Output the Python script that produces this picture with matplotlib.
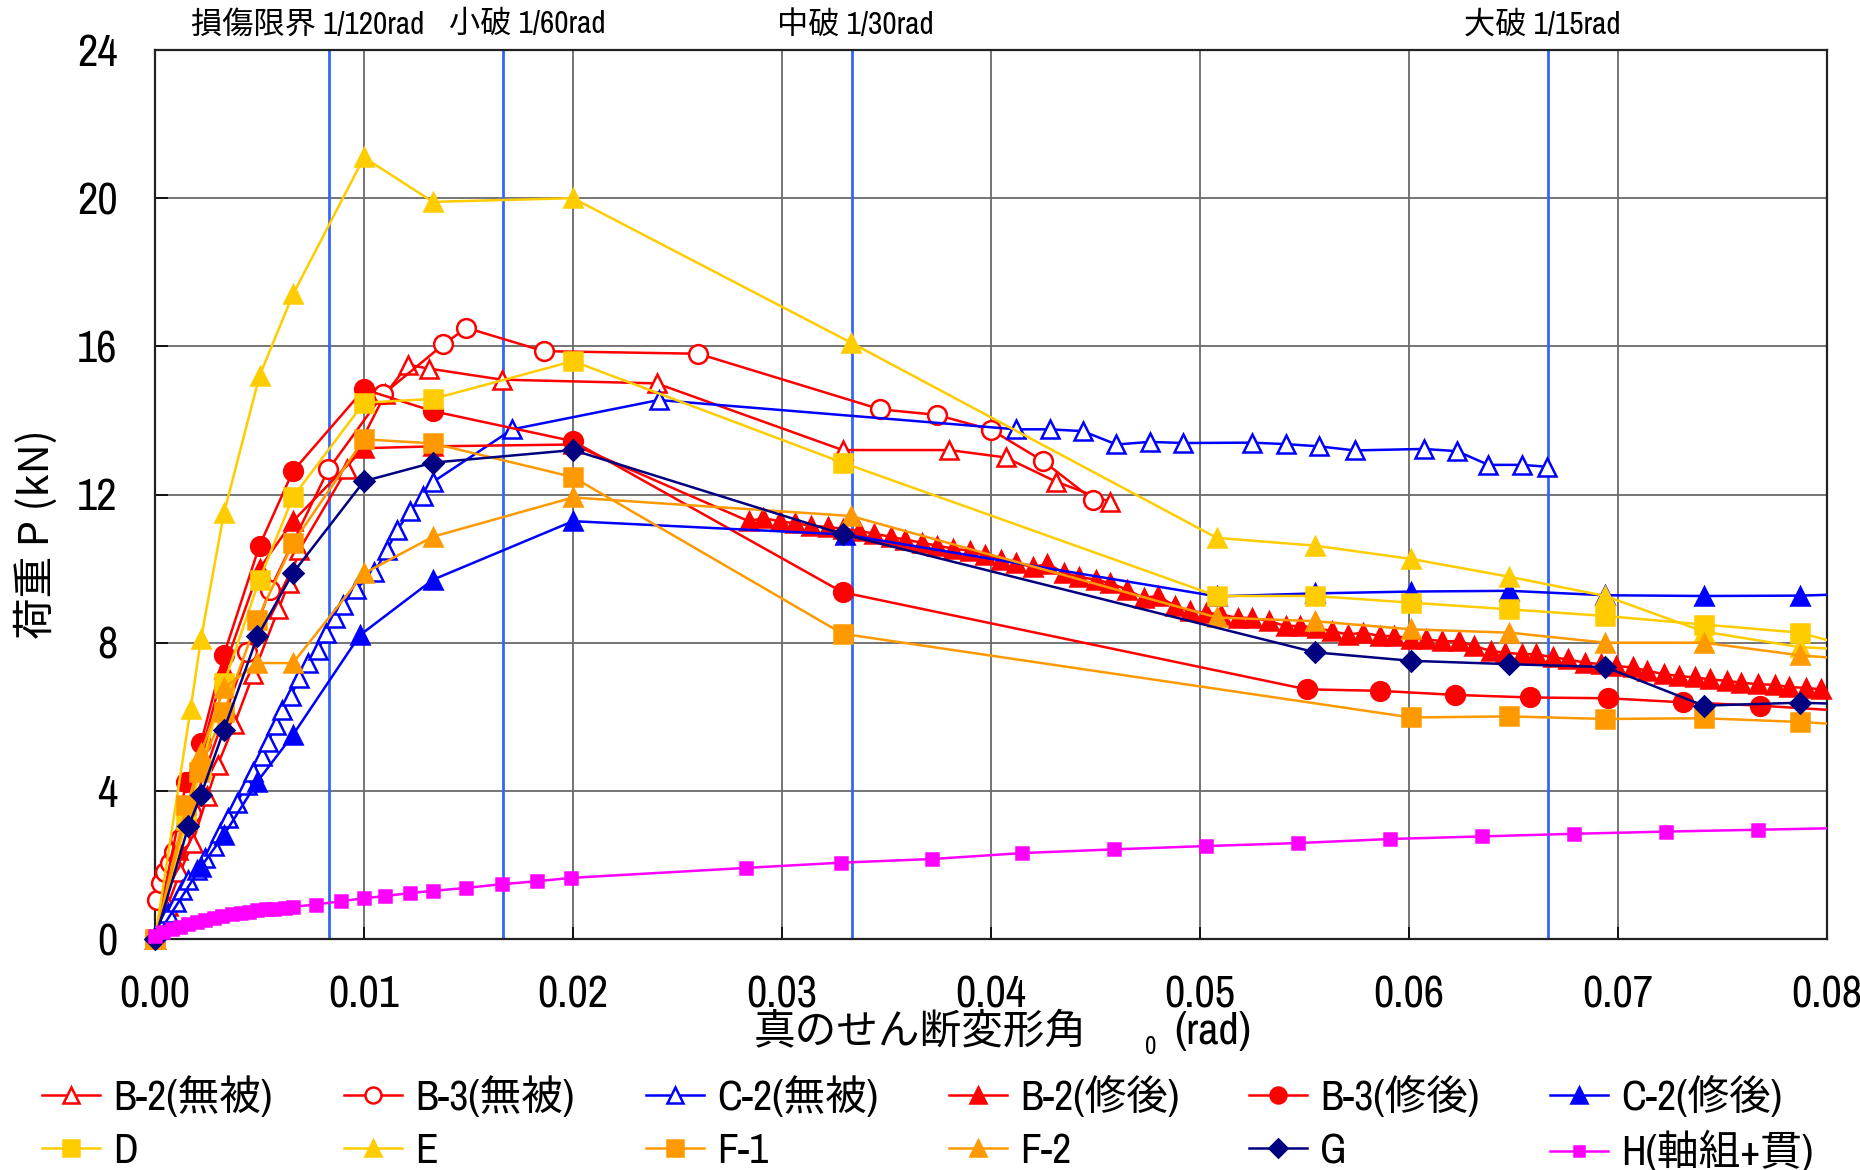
import matplotlib
matplotlib.use("Agg")
import matplotlib.pyplot as plt
import matplotlib.font_manager as fm
from matplotlib.lines import Line2D
from matplotlib.font_manager import FontProperties
import matplotlib.transforms as mtransforms

# ---------------------------------------------------------------- fonts
CJK = "Noto Sans CJK JP"


def find_narrow_face():
    """Return (family, stretch) of an installed narrow/condensed Latin face, or None."""
    entries = fm.fontManager.ttflist
    for f in entries:
        if "Narrow" in f.name and f.style == "normal" and f.weight in (400, "normal", "regular"):
            return f.name, "normal"
    latin = ["Liberation Sans", "Noto Sans", "Open Sans", "Roboto", "Lato", "Inter", "DejaVu Sans"]
    for fam in latin:
        for f in entries:
            if (f.name == fam and f.stretch in ("condensed", "semi-condensed")
                    and f.style == "normal" and f.weight in (400, "normal", "regular")):
                return f.name, f.stretch
    return None


narrow = find_narrow_face()
if narrow:
    LATIN, STRETCH = narrow
    TICK_SIZE = 32
else:
    LATIN, STRETCH = "Liberation Sans", "normal"
    TICK_SIZE = 29


def fp(size, families=None):
    return FontProperties(family=families or [LATIN, CJK], size=size, stretch=STRETCH)


# ---------------------------------------------------------------- data
# B-2 (無被)
b2_mu_x = [0, 0.0006, 0.0012, 0.0018, 0.0025, 0.0030, 0.0038, 0.0047, 0.0059, 0.0064,
           0.0069, 0.0092, 0.0110, 0.0121, 0.0131, 0.0166, 0.0240, 0.0329, 0.0380,
           0.0407, 0.0431, 0.0457]
b2_mu_y = [0, 0.9, 1.8, 2.6, 3.85, 4.7, 5.8, 7.15, 8.9, 9.6,
           10.5, 12.7, 14.7, 15.5, 15.4, 15.1, 15.0, 13.2, 13.2,
           13.0, 12.35, 11.8]

# B-3 (無被)
b3_mu_x = [0.0001, 0.0003, 0.0005, 0.0007, 0.0009, 0.0012, 0.0017, 0.0044, 0.0055,
           0.0083, 0.0109, 0.0138, 0.0149, 0.0186, 0.0260, 0.0347, 0.0374, 0.0400,
           0.0425, 0.0449]
b3_mu_y = [1.05, 1.5, 1.8, 2.05, 2.35, 2.7, 3.4, 7.75, 9.43,
           12.68, 14.7, 16.05, 16.5, 15.87, 15.8, 14.3, 14.15, 13.75,
           12.9, 11.85]

# C-2 (無被)
c2_mu_x = [0, 0.0003, 0.0006, 0.0010, 0.0013, 0.0016, 0.0020, 0.0024, 0.0028, 0.0031,
           0.0035, 0.0039, 0.0044, 0.0047, 0.0051, 0.0054, 0.0058, 0.0061, 0.0065,
           0.0069, 0.0073, 0.0078, 0.0082, 0.0086, 0.0090, 0.0096, 0.0105, 0.0111,
           0.0116, 0.0122, 0.0128, 0.0133, 0.0171, 0.0241, 0.0412, 0.0428, 0.0444,
           0.0460, 0.0476, 0.0492, 0.0525, 0.0541, 0.0557, 0.0574, 0.0607, 0.0623,
           0.0638, 0.0654, 0.0666]
c2_mu_y = [0, 0.4, 0.7, 1.0, 1.33, 1.6, 1.87, 2.18, 2.5, 2.86,
           3.27, 3.67, 4.16, 4.52, 4.93, 5.33, 5.78, 6.19, 6.55,
           7.05, 7.45, 7.81, 8.26, 8.67, 9.03, 9.45, 9.9, 10.51,
           11.05, 11.55, 11.96, 12.34, 13.76, 14.55, 13.76, 13.76, 13.71,
           13.35, 13.42, 13.39, 13.4, 13.36, 13.3, 13.19, 13.23, 13.17,
           12.8, 12.8, 12.75]

# B-2 (修後)
b2_sh_x = [0, 0.0011, 0.0022, 0.0033, 0.0050, 0.0066, 0.0100, 0.0133, 0.0200,
           0.0284, 0.0291, 0.0299, 0.0306, 0.0314, 0.0322, 0.0329, 0.0337, 0.0344,
           0.0352, 0.0359, 0.0367, 0.0374, 0.0382, 0.0390, 0.0397, 0.0405, 0.0412,
           0.0420, 0.0427, 0.0435, 0.0442, 0.0450, 0.0457, 0.0465, 0.0473, 0.0480,
           0.0488, 0.0495, 0.0503, 0.0510, 0.0518, 0.0525, 0.0533, 0.0541, 0.0548,
           0.0556, 0.0563, 0.0571, 0.0578, 0.0586, 0.0593, 0.0601, 0.0608, 0.0616,
           0.0624, 0.0631, 0.0639, 0.0646, 0.0654, 0.0661, 0.0669, 0.0676, 0.0684,
           0.0692, 0.0699, 0.0707, 0.0714, 0.0722, 0.0729, 0.0737, 0.0744, 0.0752,
           0.0759, 0.0767, 0.0775, 0.0782, 0.0790, 0.0797, 0.0805]
b2_sh_y = [0, 2.4, 5.0, 7.3, 10.0, 11.28, 13.25, 13.3, 13.35,
           11.28, 11.36, 11.28, 11.22, 11.16, 11.12, 11.08, 11.02, 10.94,
           10.86, 10.78, 10.70, 10.62, 10.54, 10.48, 10.36, 10.24, 10.15,
           10.04, 10.13, 9.88, 9.78, 9.70, 9.61, 9.43, 9.21, 9.26,
           8.99, 8.85, 8.81, 8.76, 8.67, 8.67, 8.58, 8.45, 8.45,
           8.40, 8.31, 8.22, 8.27, 8.18, 8.18, 8.11, 8.09, 8.04,
           8.04, 7.91, 7.78, 7.73, 7.69, 7.69, 7.60, 7.55, 7.46,
           7.42, 7.37, 7.33, 7.24, 7.15, 7.10, 7.06, 7.01, 6.97,
           6.92, 6.88, 6.86, 6.80, 6.78, 6.74, 6.72]

# B-3 (修後)
b3_sh_x = [0, 0.0015, 0.0022, 0.0033, 0.0050, 0.0066, 0.0100, 0.0133, 0.0200, 0.0329,
           0.0551, 0.0586, 0.0622, 0.0658, 0.0695, 0.0731, 0.0768, 0.0805]
b3_sh_y = [0, 4.25, 5.29, 7.68, 10.62, 12.63, 14.84, 14.25, 13.44, 9.36,
           6.74, 6.70, 6.59, 6.52, 6.50, 6.39, 6.30, 6.17]

# C-2 (修後)
c2_sh_x = [0, 0.0022, 0.0033, 0.0049, 0.0066, 0.0098, 0.0133, 0.0200, 0.0330, 0.0508,
           0.0555, 0.0601, 0.0648, 0.0694, 0.0741, 0.0787, 0.0834]
c2_sh_y = [0, 1.95, 2.81, 4.25, 5.51, 8.2, 9.7, 11.28, 10.92, 9.25,
           9.33, 9.38, 9.40, 9.28, 9.26, 9.27, 9.35]

# D
d_x = [0, 0.0015, 0.0022, 0.0033, 0.0050, 0.0066, 0.0100, 0.0133, 0.0200, 0.0329,
       0.0508, 0.0555, 0.0601, 0.0648, 0.0694, 0.0741, 0.0787, 0.0834]
d_y = [0, 3.2, 4.6, 6.9, 9.7, 11.93, 14.48, 14.58, 15.6, 12.86,
       9.26, 9.26, 9.08, 8.9, 8.72, 8.49, 8.27, 7.55]

# E
e_x = [0, 0.0017, 0.0022, 0.0033, 0.0050, 0.0066, 0.0100, 0.0133, 0.0200, 0.0333,
       0.0508, 0.0555, 0.0601, 0.0648, 0.0694, 0.0741, 0.0787, 0.0834]
e_y = [0, 6.2, 8.1, 11.5, 15.2, 17.4, 21.1, 19.9, 20.0, 16.1,
       10.83, 10.62, 10.26, 9.78, 9.26, 8.3, 7.88, 7.75]

# F-1
f1_x = [0, 0.0015, 0.0021, 0.0033, 0.0049, 0.0066, 0.0100, 0.0133, 0.0200, 0.0329,
        0.0601, 0.0648, 0.0694, 0.0741, 0.0787, 0.0834]
f1_y = [0, 3.62, 4.52, 6.14, 8.62, 10.69, 13.49, 13.38, 12.47, 8.24,
        5.98, 6.01, 5.94, 5.96, 5.86, 5.7]

# F-2
f2_x = [0, 0.0022, 0.0033, 0.0049, 0.0066, 0.0100, 0.0133, 0.0200, 0.0333,
        0.0508, 0.0555, 0.0601, 0.0648, 0.0694, 0.0741, 0.0787, 0.0834]
f2_y = [0, 5.02, 6.78, 7.45, 7.45, 9.87, 10.86, 11.92, 11.42,
        8.68, 8.58, 8.36, 8.27, 8.0, 8.0, 7.66, 7.45]

# G
g_x = [0, 0.0016, 0.0022, 0.0033, 0.0049, 0.0066, 0.0100, 0.0133, 0.0200, 0.0329,
       0.0555, 0.0601, 0.0648, 0.0694, 0.0741, 0.0787, 0.0834]
g_y = [0, 3.04, 3.89, 5.65, 8.17, 9.88, 12.36, 12.86, 13.2, 10.93,
       7.74, 7.51, 7.42, 7.34, 6.3, 6.38, 6.3]

# H (軸組+貫)
h_x = [0.0000, 0.0004, 0.0008, 0.0012, 0.0016, 0.0020, 0.0024, 0.0028, 0.0032, 0.0037,
       0.0041, 0.0045, 0.0049, 0.0053, 0.0057, 0.0062, 0.0066, 0.0077, 0.0089, 0.0100,
       0.0110, 0.0122, 0.0133, 0.0149, 0.0166, 0.0183, 0.0199, 0.0283, 0.0328, 0.0372,
       0.0415, 0.0459, 0.0503, 0.0547, 0.0591, 0.0635, 0.0679, 0.0723, 0.0767, 0.0811]
h_y = [0.08, 0.18, 0.26, 0.33, 0.40, 0.46, 0.52, 0.57, 0.62, 0.67,
       0.71, 0.74, 0.77, 0.80, 0.82, 0.85, 0.87, 0.93, 1.02, 1.10,
       1.16, 1.24, 1.30, 1.38, 1.48, 1.56, 1.65, 1.92, 2.06, 2.16,
       2.32, 2.42, 2.51, 2.59, 2.70, 2.77, 2.84, 2.90, 2.95, 3.00]

labels = ["B-2(無被)", "B-3(無被)", "C-2(無被)", "B-2(修後)", "B-3(修後)", "C-2(修後)",
          "D", "E", "F-1", "F-2", "G", "H(軸組+貫)"]

# damage-level reference angles (rad) and their captions
limit_angles = [1 / 120, 1 / 60, 1 / 30, 1 / 15]
limit_texts = ["損傷限界 1/120rad", "小破 1/60rad", "中破 1/30rad", "大破 1/15rad"]
limit_text_x = [0.00732, 0.01783, 0.0335, 0.0664]

x_ticks = [0.00, 0.01, 0.02, 0.03, 0.04, 0.05, 0.06, 0.07, 0.08]
y_ticks = [0, 4, 8, 12, 16, 20, 24]

# ---------------------------------------------------------------- styles
RED, BLUE, YEL, ORG, NAVY, MAG = "#FF0000", "#0000FF", "#FFCC00", "#FF9900", "#000080", "#FF00FF"
styles = [
    dict(color=RED, marker="^", mfc="white", ms=13.5),
    dict(color=RED, marker="o", mfc="white", ms=13.5),
    dict(color=BLUE, marker="^", mfc="white", ms=13.5),
    dict(color=RED, marker="^", mfc=RED, ms=13.5),
    dict(color=RED, marker="o", mfc=RED, ms=13.5),
    dict(color=BLUE, marker="^", mfc=BLUE, ms=13.5),
    dict(color=YEL, marker="s", mfc=YEL, ms=13),
    dict(color=YEL, marker="^", mfc=YEL, ms=13.5),
    dict(color=ORG, marker="s", mfc=ORG, ms=13),
    dict(color=ORG, marker="^", mfc=ORG, ms=13.5),
    dict(color=NAVY, marker="D", mfc=NAVY, ms=10.5),
    dict(color=MAG, marker="s", mfc=MAG, ms=8.5),
]
series = [(b2_mu_x, b2_mu_y), (b3_mu_x, b3_mu_y), (c2_mu_x, c2_mu_y),
          (b2_sh_x, b2_sh_y), (b3_sh_x, b3_sh_y), (c2_sh_x, c2_sh_y),
          (d_x, d_y), (e_x, e_y), (f1_x, f1_y), (f2_x, f2_y), (g_x, g_y), (h_x, h_y)]

LW = 1.8
MEW = 1.8

# ---------------------------------------------------------------- figure
W, H = 1860, 1170
fig = plt.figure(figsize=(W / 100, H / 100), dpi=100)
ax = fig.add_axes([155 / W, 1 - 939 / H, (1827 - 155) / W, (939 - 50) / H])

XMAX, YMAX = 0.08, 24
ax.set_xlim(0, XMAX)
ax.set_ylim(0, YMAX)
ax.set_xticks(x_ticks)
ax.set_xticklabels([f"{v:.2f}" for v in x_ticks])
ax.set_yticks(y_ticks)
ax.set_yticklabels([str(v) for v in y_ticks])
ax.tick_params(axis="both", direction="in", length=9, width=1.2)
ax.tick_params(axis="x", pad=26)
ax.tick_params(axis="y", pad=27)
for lab in ax.get_xticklabels() + ax.get_yticklabels():
    lab.set_fontproperties(fp(TICK_SIZE, [LATIN]))

ax.grid(True, color="#6a6a6a", lw=1.3)
ax.set_axisbelow(True)
for sp in ax.spines.values():
    sp.set_linewidth(1.6)
    sp.set_color("#222222")

# damage-level lines and captions
trans = mtransforms.blended_transform_factory(ax.transData, ax.transAxes)
for a in limit_angles:
    ax.axvline(a, color="#3366FF", lw=2.0, zorder=1.5)
for tx, t in zip(limit_text_x, limit_texts):
    ax.text(tx, 1.029, t, transform=trans, ha="center", va="center",
            fontproperties=fp(22.5))

# curves: line clipped to the frame, markers inside the x-range left unclipped
for i, ((xs, ys), st) in enumerate(zip(series, styles)):
    z = 3 + i
    ax.plot(xs, ys, color=st["color"], lw=LW, zorder=z, clip_on=True)
    mx = [x for x in xs if x <= XMAX + 1e-9]
    my = [y for x, y in zip(xs, ys) if x <= XMAX + 1e-9]
    ax.plot(mx, my, ls="none", marker=st["marker"], ms=st["ms"], mfc=st["mfc"],
            mec=st["color"], mew=MEW, zorder=z + 0.5, clip_on=False)

# axis titles
fig.text(36 / W, 1 - 534 / H, "荷重 P (kN)", rotation=90, ha="center", va="center",
         fontsize=30, family=[CJK])
fig.text(1087 / W, 1 - 1032 / H, "真のせん断変形角", ha="right", va="center",
         fontsize=30, family=[CJK])
fig.text(1151 / W, 1 - 1046 / H, "0", ha="center", va="center", fontproperties=fp(18, [LATIN]))
fig.text(1174 / W, 1 - 1032 / H, "(rad)", ha="left", va="center", fontproperties=fp(32, [LATIN]))

# legend: 6 columns x 2 rows
col_x = [42, 344, 646, 949, 1249, 1550]
row_y = [1096, 1151]
for k, (lab, st) in enumerate(zip(labels, styles)):
    r, c = divmod(k, 6)
    h = Line2D([], [], color=st["color"], lw=LW, marker=st["marker"],
               ms=st["ms"] * 0.85, mfc=st["mfc"], mec=st["color"], mew=MEW)
    fig.legend([h], [lab], loc="center left", bbox_to_anchor=(col_x[c] / W, 1 - row_y[r] / H),
               frameon=False, borderpad=0, borderaxespad=0, handlelength=1.4,
               handletextpad=0.3, prop=fp(30))

fig.savefig("out.png", dpi=100)
